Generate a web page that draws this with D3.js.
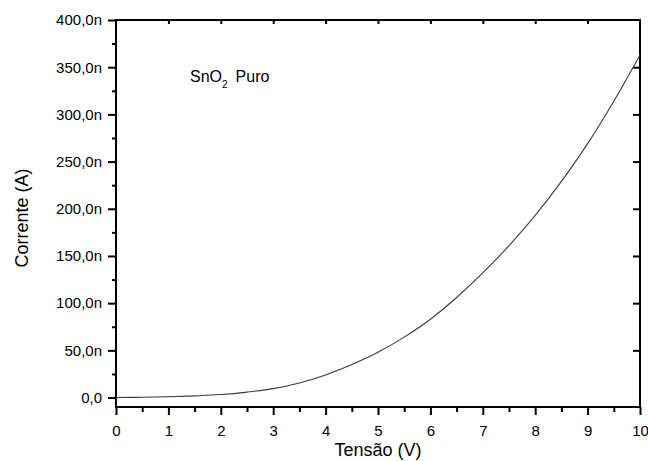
<!DOCTYPE html>
<html>
<head>
<meta charset="utf-8">
<script src="https://cdn.jsdelivr.net/npm/d3@7"></script>
<style>
  body { margin: 0; background: #fff; }
  svg { font-family: "Liberation Sans", Arial, sans-serif; }
</style>
</head>
<body>
<svg width="648" height="461"></svg>
<script>
// tensão (V) e corrente (nA)
var tensao = [0, 0.5, 1, 1.5, 2, 2.5, 3, 3.5, 4, 4.5, 5, 5.5, 6, 6.5, 7, 7.5, 8, 8.5, 9, 9.5, 10];
var corrente = [0, 0.3, 0.8, 1.8, 3.2, 5.8, 9.5, 15.5, 24, 35, 48, 64, 83, 106, 132, 161, 193, 229, 269, 314, 363];
var xTicks = [0, 1, 2, 3, 4, 5, 6, 7, 8, 9, 10];
var yTicks = [0, 50, 100, 150, 200, 250, 300, 350, 400];
var yTickLabels = ["0,0", "50,0n", "100,0n", "150,0n", "200,0n", "250,0n", "300,0n", "350,0n", "400,0n"];

var svg = d3.select("svg");
// (window.top é reservado, daí os nomes)
var plotL = 116, plotR = 640, plotT = 20, plotB = 407;

var x = d3.scaleLinear().domain([0, 10]).range([plotL, plotR]);
var y = d3.scaleLinear().domain([-10, 400]).range([plotB, plotT]);

// eixo inferior
var xAxis = d3.axisBottom(x).tickValues(xTicks).tickSize(8).tickPadding(10)
  .tickFormat(d3.format("d"));
svg.append("g").attr("transform", "translate(0," + plotB + ")").call(xAxis);
var xMinor = d3.axisBottom(x).tickValues(d3.range(0.5, 10, 1)).tickSize(5).tickFormat("");
svg.append("g").attr("transform", "translate(0," + plotB + ")").call(xMinor);

// eixo esquerdo
var yAxis = d3.axisLeft(y).tickValues(yTicks).tickSize(8).tickPadding(6)
  .tickFormat(function(d, i) { return yTickLabels[i]; });
svg.append("g").attr("transform", "translate(" + plotL + ",0)").call(yAxis);
var yMinor = d3.axisLeft(y).tickValues(d3.range(25, 400, 50)).tickSize(4).tickFormat("");
svg.append("g").attr("transform", "translate(" + plotL + ",0)").call(yMinor);

// eixos espelhados (ticks para dentro)
var xTop = d3.axisTop(x).tickValues(d3.range(1, 10)).tickSize(-4).tickFormat("");
svg.append("g").attr("transform", "translate(0," + plotT + ")").call(xTop);
var yRight = d3.axisRight(y).tickValues(yTicks.slice(1, 8)).tickSize(-7).tickFormat("");
svg.append("g").attr("transform", "translate(" + plotR + ",0)").call(yRight);

svg.selectAll(".domain").remove();
svg.selectAll(".tick line").attr("stroke", "#000").attr("stroke-width", 2);
svg.selectAll(".tick text").attr("fill", "#000").style("font-size", "15px")
  .style("font-family", "'Liberation Sans', Arial, sans-serif");

// moldura
svg.append("rect")
  .attr("x", plotL).attr("y", plotT)
  .attr("width", plotR - plotL).attr("height", plotB - plotT)
  .attr("fill", "none").attr("stroke", "#000").attr("stroke-width", 2);

// curva
var line = d3.line()
  .x(function(d, i) { return x(tensao[i]); })
  .y(function(d) { return y(d); })
  .curve(d3.curveMonotoneX);
svg.append("path")
  .datum(corrente)
  .attr("d", line)
  .attr("fill", "none")
  .attr("stroke", "#3a3a3a")
  .attr("stroke-width", 1.1);

// títulos
svg.append("text")
  .attr("x", (plotL + plotR) / 2).attr("y", 456)
  .attr("text-anchor", "middle").style("font-size", "18px")
  .text("Tensão (V)");
svg.append("text")
  .attr("transform", "translate(28,218) rotate(-90)")
  .attr("text-anchor", "middle").style("font-size", "18px")
  .text("Corrente (A)");

var rotulo = svg.append("text")
  .attr("x", 190).attr("y", 82).style("font-size", "16px");
rotulo.append("tspan").text("SnO");
rotulo.append("tspan").attr("dy", 6).style("font-size", "10px").text("2");
rotulo.append("tspan").attr("dy", -6).attr("dx", 8).text("Puro");
</script>
</body>
</html>
